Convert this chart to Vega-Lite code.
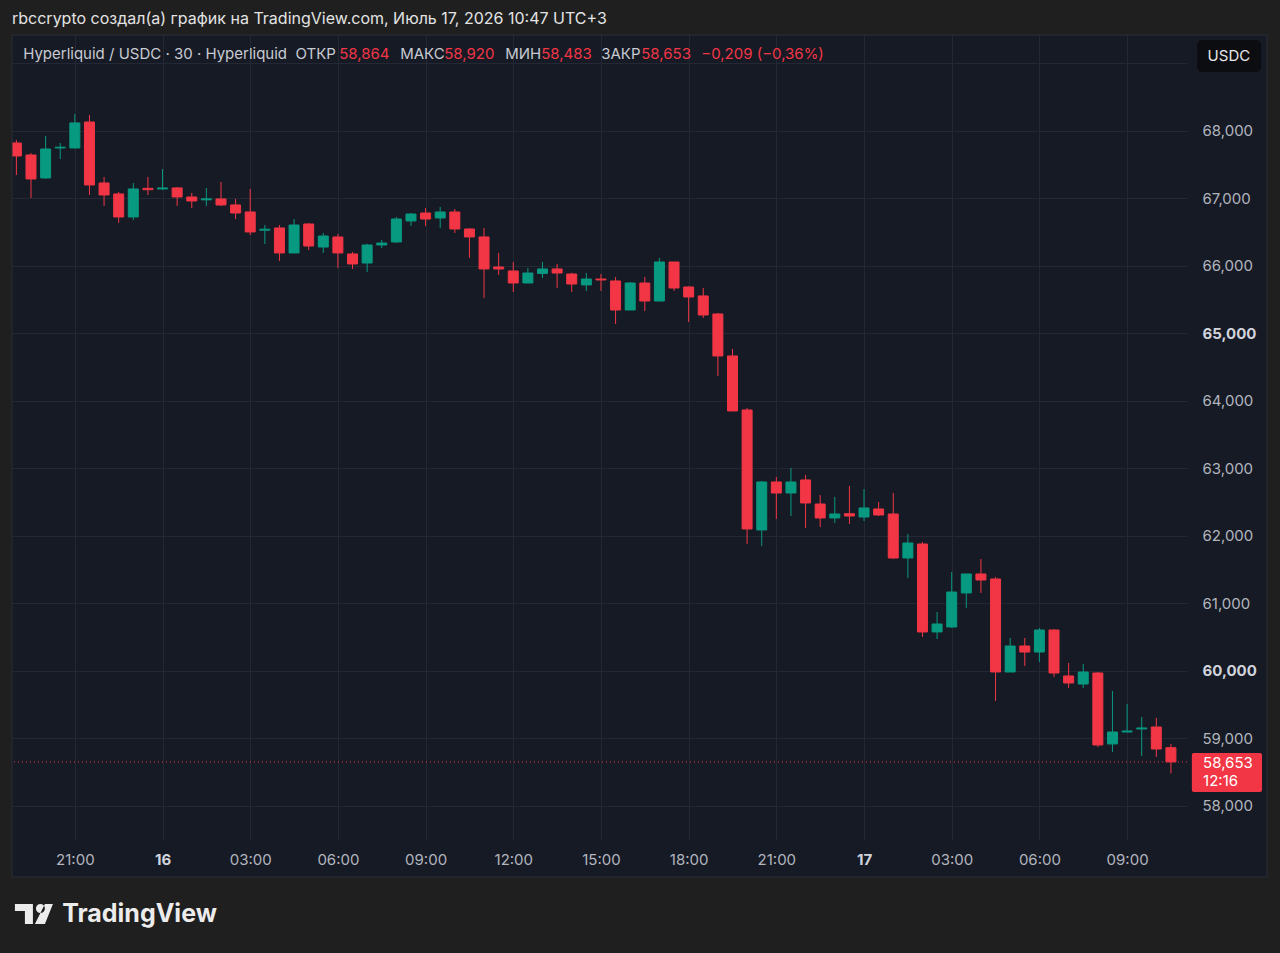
{
  "$schema": "https://vega.github.io/schema/vega-lite/v6.json",
  "width": 1175,
  "height": 805,
  "autosize": "none",
  "padding": {"left": 12, "top": 35, "right": 93, "bottom": 113},
  "background": "#161a25",
  "datasets": {
    "candles": [
      {"t": "2026-07-15T19:00:00Z", "o": 67822, "h": 67867, "l": 67348, "c": 67630},
      {"t": "2026-07-15T19:30:00Z", "o": 67644, "h": 67674, "l": 67007, "c": 67289},
      {"t": "2026-07-15T20:00:00Z", "o": 67304, "h": 67926, "l": 67289, "c": 67733},
      {"t": "2026-07-15T20:30:00Z", "o": 67748, "h": 67822, "l": 67585, "c": 67760},
      {"t": "2026-07-15T21:00:00Z", "o": 67748, "h": 68252, "l": 67740, "c": 68119},
      {"t": "2026-07-15T21:30:00Z", "o": 68133, "h": 68237, "l": 67052, "c": 67200},
      {"t": "2026-07-15T22:00:00Z", "o": 67230, "h": 67319, "l": 66889, "c": 67052},
      {"t": "2026-07-15T22:30:00Z", "o": 67067, "h": 67096, "l": 66637, "c": 66726},
      {"t": "2026-07-15T23:00:00Z", "o": 66726, "h": 67230, "l": 66681, "c": 67141},
      {"t": "2026-07-15T23:30:00Z", "o": 67150, "h": 67319, "l": 67052, "c": 67130},
      {"t": "2026-07-16T00:00:00Z", "o": 67141, "h": 67437, "l": 67130, "c": 67156},
      {"t": "2026-07-16T00:30:00Z", "o": 67156, "h": 67170, "l": 66889, "c": 67022},
      {"t": "2026-07-16T01:00:00Z", "o": 67022, "h": 67081, "l": 66859, "c": 66963},
      {"t": "2026-07-16T01:30:00Z", "o": 66980, "h": 67156, "l": 66889, "c": 66995},
      {"t": "2026-07-16T02:00:00Z", "o": 66993, "h": 67245, "l": 66889, "c": 66904},
      {"t": "2026-07-16T02:30:00Z", "o": 66904, "h": 66993, "l": 66696, "c": 66785},
      {"t": "2026-07-16T03:00:00Z", "o": 66800, "h": 67141, "l": 66459, "c": 66504},
      {"t": "2026-07-16T03:30:00Z", "o": 66530, "h": 66607, "l": 66326, "c": 66545},
      {"t": "2026-07-16T04:00:00Z", "o": 66563, "h": 66607, "l": 66074, "c": 66193},
      {"t": "2026-07-16T04:30:00Z", "o": 66193, "h": 66696, "l": 66193, "c": 66607},
      {"t": "2026-07-16T05:00:00Z", "o": 66622, "h": 66637, "l": 66237, "c": 66296},
      {"t": "2026-07-16T05:30:00Z", "o": 66281, "h": 66489, "l": 66193, "c": 66444},
      {"t": "2026-07-16T06:00:00Z", "o": 66430, "h": 66474, "l": 65970, "c": 66193},
      {"t": "2026-07-16T06:30:00Z", "o": 66178, "h": 66207, "l": 65956, "c": 66030},
      {"t": "2026-07-16T07:00:00Z", "o": 66044, "h": 66330, "l": 65911, "c": 66311},
      {"t": "2026-07-16T07:30:00Z", "o": 66311, "h": 66385, "l": 66267, "c": 66340},
      {"t": "2026-07-16T08:00:00Z", "o": 66356, "h": 66726, "l": 66340, "c": 66696},
      {"t": "2026-07-16T08:30:00Z", "o": 66667, "h": 66785, "l": 66593, "c": 66770},
      {"t": "2026-07-16T09:00:00Z", "o": 66785, "h": 66859, "l": 66593, "c": 66696},
      {"t": "2026-07-16T09:30:00Z", "o": 66711, "h": 66874, "l": 66563, "c": 66800},
      {"t": "2026-07-16T10:00:00Z", "o": 66800, "h": 66844, "l": 66489, "c": 66548},
      {"t": "2026-07-16T10:30:00Z", "o": 66548, "h": 66560, "l": 66119, "c": 66430},
      {"t": "2026-07-16T11:00:00Z", "o": 66430, "h": 66563, "l": 65526, "c": 65956},
      {"t": "2026-07-16T11:30:00Z", "o": 65985, "h": 66193, "l": 65867, "c": 65956},
      {"t": "2026-07-16T12:00:00Z", "o": 65926, "h": 66059, "l": 65615, "c": 65748},
      {"t": "2026-07-16T12:30:00Z", "o": 65748, "h": 65970, "l": 65748, "c": 65896},
      {"t": "2026-07-16T13:00:00Z", "o": 65890, "h": 66059, "l": 65822, "c": 65956},
      {"t": "2026-07-16T13:30:00Z", "o": 65956, "h": 66030, "l": 65674, "c": 65896},
      {"t": "2026-07-16T14:00:00Z", "o": 65881, "h": 65900, "l": 65615, "c": 65733},
      {"t": "2026-07-16T14:30:00Z", "o": 65719, "h": 65896, "l": 65630, "c": 65807},
      {"t": "2026-07-16T15:00:00Z", "o": 65807, "h": 65881, "l": 65630, "c": 65793},
      {"t": "2026-07-16T15:30:00Z", "o": 65778, "h": 65837, "l": 65141, "c": 65348},
      {"t": "2026-07-16T16:00:00Z", "o": 65348, "h": 65763, "l": 65348, "c": 65748},
      {"t": "2026-07-16T16:30:00Z", "o": 65748, "h": 65837, "l": 65333, "c": 65481},
      {"t": "2026-07-16T17:00:00Z", "o": 65481, "h": 66119, "l": 65481, "c": 66059},
      {"t": "2026-07-16T17:30:00Z", "o": 66059, "h": 66059, "l": 65630, "c": 65674},
      {"t": "2026-07-16T18:00:00Z", "o": 65689, "h": 65700, "l": 65170, "c": 65541},
      {"t": "2026-07-16T18:30:00Z", "o": 65556, "h": 65674, "l": 65230, "c": 65274},
      {"t": "2026-07-16T19:00:00Z", "o": 65289, "h": 65304, "l": 64370, "c": 64667},
      {"t": "2026-07-16T19:30:00Z", "o": 64667, "h": 64770, "l": 63852, "c": 63852},
      {"t": "2026-07-16T20:00:00Z", "o": 63867, "h": 63896, "l": 61881, "c": 62104},
      {"t": "2026-07-16T20:30:00Z", "o": 62089, "h": 62815, "l": 61852, "c": 62800},
      {"t": "2026-07-16T21:00:00Z", "o": 62800, "h": 62874, "l": 62252, "c": 62637},
      {"t": "2026-07-16T21:30:00Z", "o": 62637, "h": 63007, "l": 62296, "c": 62800},
      {"t": "2026-07-16T22:00:00Z", "o": 62830, "h": 62904, "l": 62119, "c": 62489},
      {"t": "2026-07-16T22:30:00Z", "o": 62474, "h": 62607, "l": 62133, "c": 62267},
      {"t": "2026-07-16T23:00:00Z", "o": 62267, "h": 62578, "l": 62193, "c": 62326},
      {"t": "2026-07-16T23:30:00Z", "o": 62330, "h": 62741, "l": 62178, "c": 62296},
      {"t": "2026-07-17T00:00:00Z", "o": 62281, "h": 62696, "l": 62222, "c": 62415},
      {"t": "2026-07-17T00:30:00Z", "o": 62400, "h": 62504, "l": 62296, "c": 62311},
      {"t": "2026-07-17T01:00:00Z", "o": 62326, "h": 62637, "l": 61660, "c": 61674},
      {"t": "2026-07-17T01:30:00Z", "o": 61674, "h": 62030, "l": 61378, "c": 61896},
      {"t": "2026-07-17T02:00:00Z", "o": 61881, "h": 61911, "l": 60504, "c": 60578},
      {"t": "2026-07-17T02:30:00Z", "o": 60578, "h": 60874, "l": 60474, "c": 60696},
      {"t": "2026-07-17T03:00:00Z", "o": 60652, "h": 61467, "l": 60637, "c": 61170},
      {"t": "2026-07-17T03:30:00Z", "o": 61156, "h": 61437, "l": 60933, "c": 61437},
      {"t": "2026-07-17T04:00:00Z", "o": 61437, "h": 61659, "l": 61156, "c": 61348},
      {"t": "2026-07-17T04:30:00Z", "o": 61363, "h": 61393, "l": 59556, "c": 59985},
      {"t": "2026-07-17T05:00:00Z", "o": 59985, "h": 60489, "l": 59985, "c": 60370},
      {"t": "2026-07-17T05:30:00Z", "o": 60370, "h": 60489, "l": 60074, "c": 60281},
      {"t": "2026-07-17T06:00:00Z", "o": 60281, "h": 60637, "l": 60133, "c": 60607},
      {"t": "2026-07-17T06:30:00Z", "o": 60607, "h": 60622, "l": 59911, "c": 59970},
      {"t": "2026-07-17T07:00:00Z", "o": 59926, "h": 60119, "l": 59748, "c": 59822},
      {"t": "2026-07-17T07:30:00Z", "o": 59807, "h": 60104, "l": 59748, "c": 59985},
      {"t": "2026-07-17T08:00:00Z", "o": 59970, "h": 59985, "l": 58874, "c": 58904},
      {"t": "2026-07-17T08:30:00Z", "o": 58919, "h": 59704, "l": 58800, "c": 59096},
      {"t": "2026-07-17T09:00:00Z", "o": 59096, "h": 59511, "l": 59096, "c": 59111},
      {"t": "2026-07-17T09:30:00Z", "o": 59141, "h": 59319, "l": 58741, "c": 59156},
      {"t": "2026-07-17T10:00:00Z", "o": 59170, "h": 59304, "l": 58726, "c": 58844},
      {"t": "2026-07-17T10:30:00Z", "o": 58864, "h": 58920, "l": 58483, "c": 58653}
    ],
    "quote": [
      {"caption": "rbccrypto создал(а) график на TradingView.com, Июль 17, 2026 10:47 UTC+3", "symbol": "Hyperliquid / USDC · 30 · Hyperliquid\u00a0 ОТКР", "o": 58864, "h": 58920, "l": 58483, "c": 58653, "change": "−0,209 (−0,36%)", "countdown": "12:16", "currency": "USDC"}
    ]
  },
  "data": {"name": "candles"},
  "layer": [
    {
      "mark": {"type": "rule", "strokeWidth": 1},
      "encoding": {
        "x": {
          "field": "t",
          "type": "temporal",
          "scale": {"type": "utc", "nice": false, "padding": 0, "domain": [1784141460000, 1784286180000]},
          "axis": {
            "title": null,
            "values": [1784149200000, 1784160000000, 1784170800000, 1784181600000, 1784192400000, 1784203200000, 1784214000000, 1784224800000, 1784235600000, 1784246400000, 1784257200000, 1784268000000, 1784278800000],
            "labelExpr": "utchours(datum.value) === 0 ? utcFormat(datum.value, '%-d') : utcFormat(datum.value, '%H:%M')",
            "labelFontWeight": {"condition": {"test": "utchours(datum.value) === 0", "value": "bold"}, "value": "normal"},
            "labelColor": {"condition": {"test": "utchours(datum.value) === 0", "value": "#d1d4dc"}, "value": "#b2b5be"},
            "labelFont": "Inter",
            "labelFontSize": 15,
            "labelPadding": 12,
            "labelFlush": false,
            "labelOverlap": false,
            "ticks": false,
            "domain": false,
            "grid": true,
            "gridColor": "#242834",
            "gridWidth": 1
          }
        },
        "y": {
          "field": "l",
          "type": "quantitative",
          "scale": {"domain": [57496, 69422], "nice": false, "zero": false, "padding": 0},
          "axis": {
            "title": null,
            "orient": "right",
            "values": [58000, 59000, 60000, 61000, 62000, 63000, 64000, 65000, 66000, 67000, 68000, 69000],
            "labelExpr": "datum.value > 68500 ? '' : format(datum.value, ',')",
            "labelFontWeight": {"condition": {"test": "datum.value % 5000 === 0", "value": "bold"}, "value": "normal"},
            "labelColor": {"condition": {"test": "datum.value % 5000 === 0", "value": "#d1d4dc"}, "value": "#b2b5be"},
            "labelFont": "Inter",
            "labelFontSize": 15,
            "labelAlign": "left",
            "labelBaseline": "middle",
            "labelPadding": 15,
            "labelOverlap": false,
            "ticks": false,
            "domain": false,
            "grid": true,
            "gridColor": "#242834",
            "gridWidth": 1
          }
        },
        "y2": {"field": "h"},
        "color": {"condition": {"test": "datum.c >= datum.o", "value": "#089981"}, "value": "#f23645"}
      }
    },
    {
      "mark": {"type": "bar", "width": 10, "strokeWidth": 1},
      "encoding": {
        "x": {"field": "t", "type": "temporal"},
        "y": {"field": "o", "type": "quantitative"},
        "y2": {"field": "c"},
        "fill": {"condition": {"test": "datum.c >= datum.o", "value": "#089981"}, "value": "#f23645"},
        "stroke": {"condition": {"test": "datum.c >= datum.o", "value": "#089981"}, "value": "#f23645"}
      }
    },
    {
      "data": {"name": "quote"},
      "mark": {"type": "rule", "color": "#f23645", "strokeWidth": 1, "strokeDash": [1, 3]},
      "encoding": {"y": {"field": "c", "type": "quantitative"}}
    },
    {
      "data": {"name": "quote"},
      "mark": {"type": "rect", "color": "#1f1f1f"},
      "encoding": {
        "x": {"datum": 1784127600000, "type": "temporal"},
        "x2": {"datum": 1784311200000},
        "y": {"datum": 69422, "type": "quantitative"},
        "y2": {"datum": 72000}
      }
    },
    {
      "data": {"name": "quote"},
      "mark": {"type": "rect", "color": "#1f1f1f"},
      "encoding": {
        "x": {"datum": 1784127600000, "type": "temporal"},
        "x2": {"datum": 1784311200000},
        "y": {"datum": 56948, "type": "quantitative"},
        "y2": {"datum": 54000}
      }
    },
    {
      "data": {"name": "quote"},
      "mark": {"type": "rect", "color": "#1f1f1f"},
      "encoding": {
        "x": {"datum": 1784127600000, "type": "temporal"},
        "x2": {"datum": 1784141460000},
        "y": {"datum": 54000, "type": "quantitative"},
        "y2": {"datum": 72000}
      }
    },
    {
      "data": {"name": "quote"},
      "mark": {"type": "rect", "color": "#1f1f1f"},
      "encoding": {
        "x": {"datum": 1784296020000, "type": "temporal"},
        "x2": {"datum": 1784311200000},
        "y": {"datum": 54000, "type": "quantitative"},
        "y2": {"datum": 72000}
      }
    },
    {
      "data": {"name": "quote"},
      "mark": {"type": "rect", "fillOpacity": 0, "stroke": "#2a2e39", "strokeWidth": 1},
      "encoding": {
        "x": {"datum": 1784141460000, "type": "temporal"},
        "x2": {"datum": 1784296020000},
        "y": {"datum": 56948, "type": "quantitative"},
        "y2": {"datum": 69422}
      }
    },
    {
      "data": {"name": "quote"},
      "mark": {"type": "text", "align": "left", "baseline": "middle", "font": "Inter", "fontSize": 16, "color": "#e3e3e3"},
      "encoding": {
        "x": {"datum": 1784141460000, "type": "temporal"},
        "y": {"datum": 69659, "type": "quantitative"},
        "text": {"field": "caption", "type": "nominal"}
      }
    },
    {
      "data": {"name": "quote"},
      "mark": {"type": "rect", "color": "#f23645", "cornerRadius": 2},
      "encoding": {
        "x": {"datum": 1784286780000, "type": "temporal"},
        "x2": {"datum": 1784295420000},
        "y": {"datum": 58207, "type": "quantitative"},
        "y2": {"datum": 58785}
      }
    },
    {
      "data": {"name": "quote"},
      "mark": {"type": "text", "align": "left", "baseline": "middle", "font": "Inter", "fontSize": 15, "color": "#ffffff"},
      "encoding": {
        "x": {"datum": 1784288160000, "type": "temporal"},
        "y": {"datum": 58637, "type": "quantitative"},
        "text": {"field": "c", "type": "quantitative", "format": ","}
      }
    },
    {
      "data": {"name": "quote"},
      "mark": {"type": "text", "align": "left", "baseline": "middle", "font": "Inter", "fontSize": 15, "color": "#ffffff"},
      "encoding": {
        "x": {"datum": 1784288160000, "type": "temporal"},
        "y": {"datum": 58370, "type": "quantitative"},
        "text": {"field": "countdown", "type": "nominal"}
      }
    },
    {
      "data": {"name": "quote"},
      "mark": {"type": "rect", "color": "#0c0d10", "cornerRadius": 5},
      "encoding": {
        "x": {"datum": 1784287440000, "type": "temporal"},
        "x2": {"datum": 1784295300000},
        "y": {"datum": 68874, "type": "quantitative"},
        "y2": {"datum": 69348}
      }
    },
    {
      "data": {"name": "quote"},
      "mark": {"type": "text", "align": "center", "baseline": "middle", "font": "Inter", "fontSize": 15, "color": "#e6e6e6"},
      "encoding": {
        "x": {"datum": 1784291340000, "type": "temporal"},
        "y": {"datum": 69111, "type": "quantitative"},
        "text": {"field": "currency", "type": "nominal"}
      }
    },
    {
      "data": {"name": "quote"},
      "mark": {"type": "text", "align": "left", "baseline": "middle", "font": "Inter", "fontSize": 15, "color": "#c8cbd2"},
      "encoding": {
        "x": {"datum": 1784142840000, "type": "temporal"},
        "y": {"datum": 69141, "type": "quantitative"},
        "text": {"field": "symbol", "type": "nominal"}
      }
    },
    {
      "data": {"name": "quote"},
      "mark": {"type": "text", "align": "left", "baseline": "middle", "font": "Inter", "fontSize": 15, "color": "#f23645", "dx": 316},
      "encoding": {
        "x": {"datum": 1784142840000, "type": "temporal"},
        "y": {"datum": 69141, "type": "quantitative"},
        "text": {"field": "o", "type": "quantitative", "format": ","}
      }
    },
    {
      "data": {"name": "quote"},
      "mark": {"type": "text", "align": "left", "baseline": "middle", "font": "Inter", "fontSize": 15, "color": "#c8cbd2", "dx": 377, "text": "МАКС"},
      "encoding": {
        "x": {"datum": 1784142840000, "type": "temporal"},
        "y": {"datum": 69141, "type": "quantitative"}
      }
    },
    {
      "data": {"name": "quote"},
      "mark": {"type": "text", "align": "left", "baseline": "middle", "font": "Inter", "fontSize": 15, "color": "#f23645", "dx": 421},
      "encoding": {
        "x": {"datum": 1784142840000, "type": "temporal"},
        "y": {"datum": 69141, "type": "quantitative"},
        "text": {"field": "h", "type": "quantitative", "format": ","}
      }
    },
    {
      "data": {"name": "quote"},
      "mark": {"type": "text", "align": "left", "baseline": "middle", "font": "Inter", "fontSize": 15, "color": "#c8cbd2", "dx": 482, "text": "МИН"},
      "encoding": {
        "x": {"datum": 1784142840000, "type": "temporal"},
        "y": {"datum": 69141, "type": "quantitative"}
      }
    },
    {
      "data": {"name": "quote"},
      "mark": {"type": "text", "align": "left", "baseline": "middle", "font": "Inter", "fontSize": 15, "color": "#f23645", "dx": 518},
      "encoding": {
        "x": {"datum": 1784142840000, "type": "temporal"},
        "y": {"datum": 69141, "type": "quantitative"},
        "text": {"field": "l", "type": "quantitative", "format": ","}
      }
    },
    {
      "data": {"name": "quote"},
      "mark": {"type": "text", "align": "left", "baseline": "middle", "font": "Inter", "fontSize": 15, "color": "#c8cbd2", "dx": 578, "text": "ЗАКР"},
      "encoding": {
        "x": {"datum": 1784142840000, "type": "temporal"},
        "y": {"datum": 69141, "type": "quantitative"}
      }
    },
    {
      "data": {"name": "quote"},
      "mark": {"type": "text", "align": "left", "baseline": "middle", "font": "Inter", "fontSize": 15, "color": "#f23645", "dx": 618},
      "encoding": {
        "x": {"datum": 1784142840000, "type": "temporal"},
        "y": {"datum": 69141, "type": "quantitative"},
        "text": {"field": "c", "type": "quantitative", "format": ","}
      }
    },
    {
      "data": {"name": "quote"},
      "mark": {"type": "text", "align": "left", "baseline": "middle", "font": "Inter", "fontSize": 15, "color": "#f23645", "dx": 678},
      "encoding": {
        "x": {"datum": 1784142840000, "type": "temporal"},
        "y": {"datum": 69141, "type": "quantitative"},
        "text": {"field": "change", "type": "nominal"}
      }
    },
    {
      "data": {"name": "quote"},
      "mark": {
        "type": "point",
        "filled": true,
        "size": 1444,
        "opacity": 1,
        "color": "#ececec",
        "shape": "M-1,-0.526L-0.053,-0.526L-0.053,0.526L-0.474,0.526L-0.474,-0.158L-1,-0.158Z M0.105,-0.29A0.237,0.237 0 1,0 0.579,-0.29A0.237,0.237 0 1,0 0.105,-0.29Z M0.579,-0.526L1,-0.526L0.579,0.526L0.053,0.526Z"
      },
      "encoding": {
        "x": {"datum": 1784144160000, "type": "temporal"},
        "y": {"datum": 56400, "type": "quantitative"}
      }
    },
    {
      "data": {"name": "quote"},
      "mark": {"type": "text", "align": "left", "baseline": "middle", "font": "Inter", "fontSize": 25, "fontWeight": 700, "color": "#ececec", "text": "TradingView"},
      "encoding": {
        "x": {"datum": 1784147640000, "type": "temporal"},
        "y": {"datum": 56400, "type": "quantitative"}
      }
    }
  ],
  "config": {
    "view": {"stroke": null}
  }
}
